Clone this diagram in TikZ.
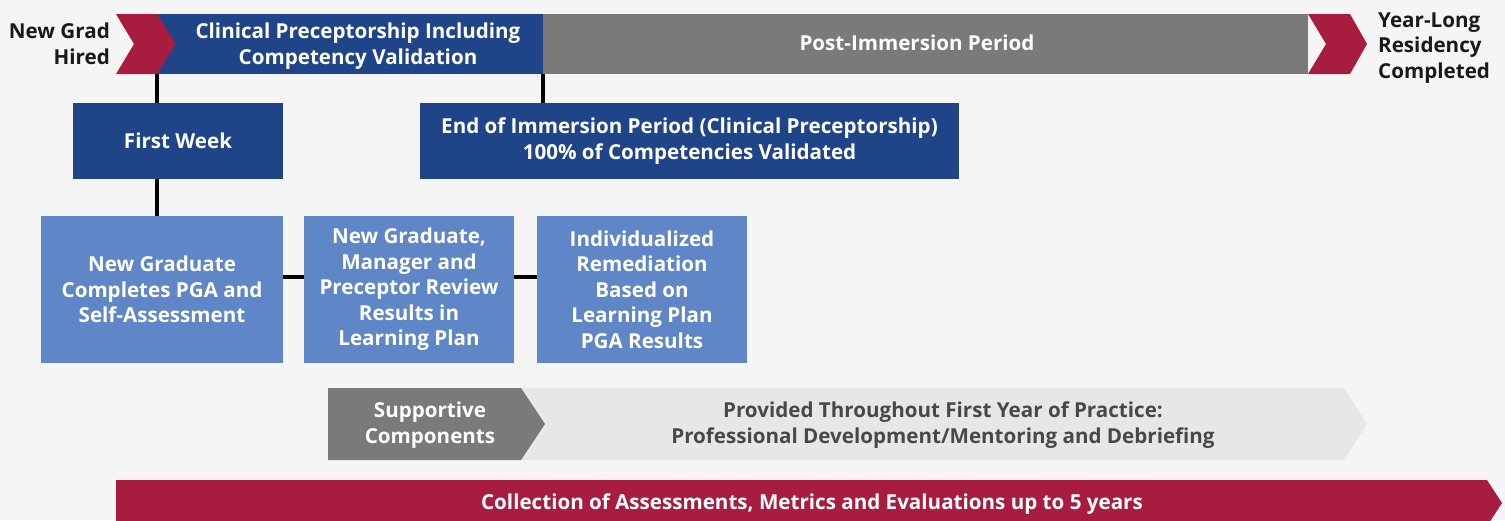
\documentclass[tikz,border=0pt]{standalone}
\usepackage{fontspec}
\setmainfont{Open Sans}
\usepackage{xcolor}

\definecolor{resRed}{HTML}{A81C3F}
\definecolor{resBlue}{HTML}{1F4488}
\definecolor{resGray}{HTML}{7B797A}
\definecolor{resLight}{HTML}{5F86C6}
\definecolor{resPale}{HTML}{E6E7E9}
\definecolor{resInk}{HTML}{47484A}
\definecolor{resBack}{HTML}{F5F5F5}

\begin{document}
\begin{tikzpicture}[x=1pt,y=-1pt,
    txt/.style={font=\fontsize{20.6}{25.5}\selectfont\bfseries, align=center, inner sep=0pt},
    bar/.style={minimum height=60pt, inner sep=0pt},
    blk/.style={txt, text=white, fill=resBlue, minimum height=76pt},
    sub/.style={txt, text=white, fill=resLight, minimum width=210pt, minimum height=147pt},
     Conn/.style={line width=4.5pt, black},
                        ]
    \clip (0,0) rectangle (1505,520);
    \fill[resBack] (0,0) rectangle (1505,520);

    % top timeline
    \node[bar, fill=resBlue, minimum width=386pt] (clin) at (350,44) {};
    \node[bar, fill=resGray, minimum width=765pt] (post) at (925.5,44) {};
    \fill[resRed] (116,14) -- (157,14) -- (175.7,44) -- (157,74) -- (116,74) -- (134,44) -- cycle;
    \fill[resRed] (1308,14) -- (1350,14) -- (1367,44) -- (1350,74) -- (1308,74) -- (1326,44) -- cycle;
    \node[txt, text=white] (clin_lbl) at (358,46) {Clinical Preceptorship Including\\Competency Validation};
    \node[txt, text=white] (post_lbl) at (917,43) {Post-Immersion Period};
    \node[txt, align=right, anchor=east, text=black!90] (hired) at (110,44) {New Grad\\Hired};
    \node[txt, align=left, anchor=west, text=black!90] (done) at (1378,48) {Year-Long\\Residency\\Completed};

    \node[blk, minimum width=210pt] (week) at (178,141) {First Week};
    \node[blk, minimum width=539pt] (endimm) at (689.5,141) {End of Immersion Period (Clinical Preceptorship)\\100\% of Competencies Validated};

    \node[sub, minimum width=242pt] (pga) at (162,289.5) {New Graduate\\Completes PGA and\\Self-Assessment};
    \node[sub] (review) at (409,289.5) {New Graduate,\\Manager and\\Preceptor Review\\Results in\\Learning Plan};
    \node[sub] (remed) at (642,289.5) {Individualized\\Remediation\\Based on\\Learning Plan\\PGA Results};

    \draw[Conn] (clin.south west) -- (clin.south west |- week.north);
    \draw[Conn] (clin.south west |- week.south) -- (clin.south west |- pga.north);
    \draw[Conn] (clin.south east) -- (clin.south east |- endimm.north);
    \draw[Conn] ([yshift=12.5pt]pga.east) -- ([yshift=12.5pt]review.west);
    \draw[Conn] ([yshift=12.5pt]review.east) -- ([yshift=12.5pt]remed.west);

    % supportive components
    \fill[resPale] (521,388) -- (1344,388) -- (1367,424) -- (1344,460) -- (521,460) -- cycle;
    \fill[resGray] (328,388) -- (521,388) -- (545,424) -- (521,460) -- (328,460) -- cycle;
    \node[txt, text=white] (supp) at (430,425) {Supportive\\Components};
    \node[txt, text=resInk] (thru) at (943,425) {Provided Throughout First Year of Practice:\\Professional Development/Mentoring and Debriefing};

    % bottom bar
    \fill[resRed] (116,480) -- (1487,480) -- (1502,503) -- (1487,526) -- (116,526) -- cycle;
    \node[txt, text=white] (collect) at (812,504) {Collection of Assessments, Metrics and Evaluations up to 5 years};
\end{tikzpicture}
\end{document}
